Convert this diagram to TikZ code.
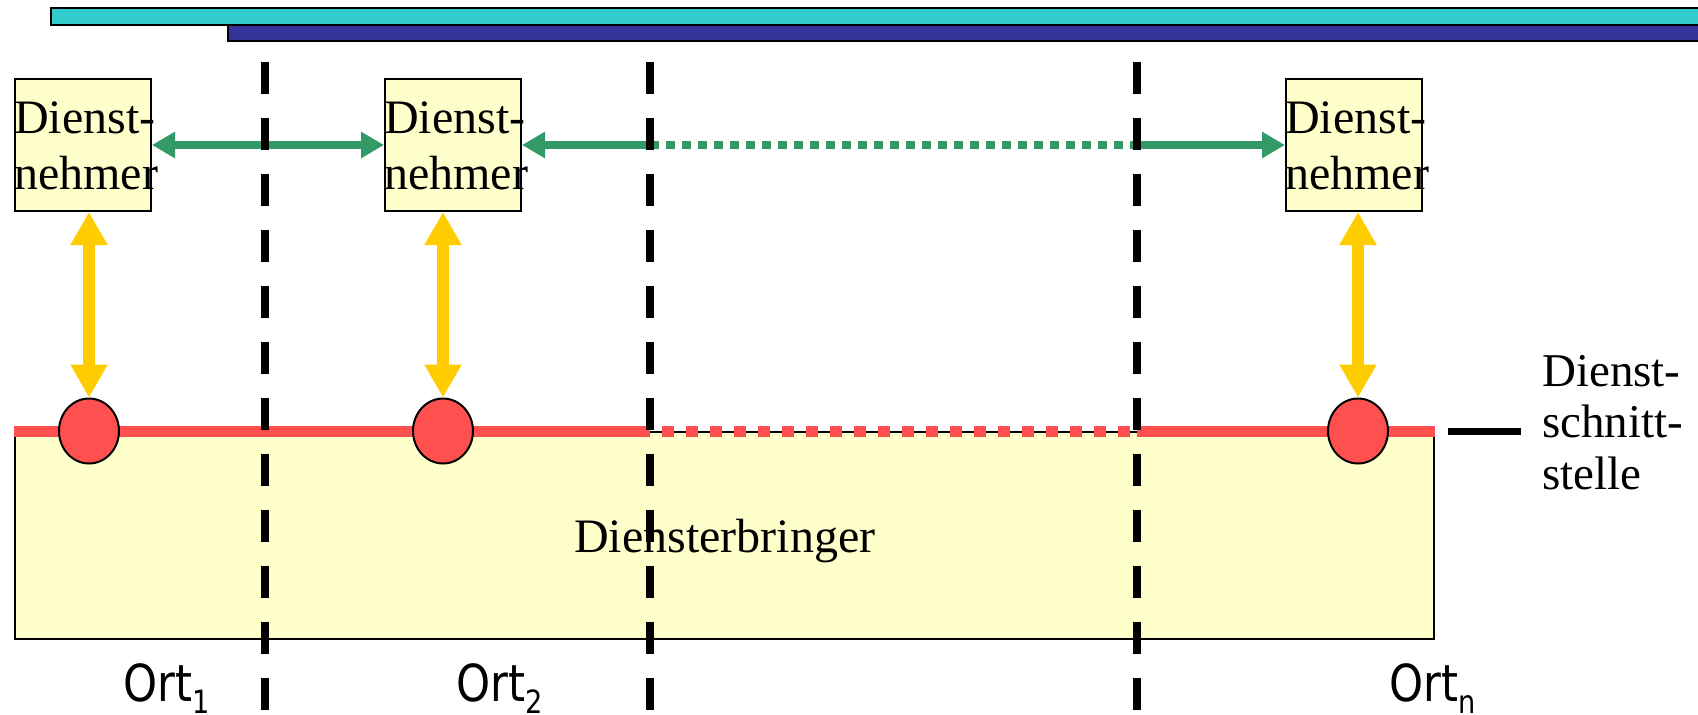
\documentclass[tikz,border=0pt]{standalone}
\usepackage{fontspec}
\setmainfont{Liberation Serif}
\newfontfamily\ortfont[FakeStretch=0.85]{DejaVu Sans}
\usetikzlibrary{arrows.meta,shapes.geometric}
\definecolor{cyanbar}{HTML}{33CCCC}
\definecolor{bluebar}{HTML}{333399}
\definecolor{paleyel}{HTML}{FFFFCC}
\definecolor{grn}{HTML}{339966}
\definecolor{yel}{HTML}{FFCC00}
\definecolor{redl}{HTML}{FF5050}
\begin{document}
\begin{tikzpicture}[x=1pt,y=-1pt,
  nbox/.style={draw=black, line width=2pt, fill=paleyel, inner sep=0pt, minimum width=136pt, minimum height=132pt, anchor=north west},
  ntext/.style={anchor=base west, inner sep=0pt, font=\fontsize{48}{56}\selectfont},
  stext/.style={anchor=base west, inner sep=0pt, font=\fontsize{47}{52}\selectfont},
  ortst/.style={anchor=base west, inner sep=0pt, font=\ortfont\fontsize{51}{60}\selectfont},
  circ/.style={ellipse, draw=black, line width=2pt, fill=redl, minimum width=60pt, minimum height=65pt, inner sep=0pt},
  garrow/.style={draw=grn, line width=8pt},
  gtip/.tip={Triangle[length=23pt,width=25pt]},
  ytip/.tip={Triangle[length=33pt,width=35pt]},
  yarrow/.style={draw=yel, line width=12pt, {ytip}-{ytip}},
  redline/.style={draw=redl, line width=11pt},
  vdash/.style={draw=black, line width=8pt, dash pattern=on 32pt off 24pt},
]
\useasboundingbox (0,0) rectangle (1698,715);
% top bars
\draw[fill=cyanbar, line width=1.5pt] (51,8) rectangle (1705,25);
\draw[fill=bluebar, line width=1.5pt] (228,25) rectangle (1705,41);
% service provider
\node[draw=black, line width=2pt, fill=paleyel, inner sep=0pt, minimum width=1419pt, minimum height=207pt, anchor=north west] (prov) at (14,431) {};
\node[anchor=base west, inner sep=0pt, font=\fontsize{48}{56}\selectfont] (provtext) at (574,552) {Diensterbringer};
% coordinates of the location borders
\coordinate (d1) at (265,62);
\coordinate (d2) at (650,62);
\coordinate (d3) at (1137,62);
\coordinate (d1b) at (265,720);
\coordinate (d2b) at (650,720);
\coordinate (d3b) at (1137,720);
% red interface line
\draw[redline] (prov.north west) -- (d2 |- prov.north);
\draw[redl, line width=11pt, dash pattern=on 12pt off 12pt, dash phase=-12pt] (d2 |- prov.north) -- (d3 |- prov.north);
\draw[redline] (d3 |- prov.north) -- (prov.north east);
% circles
\node[circ] (c1) at (89,431) {};
\node[circ] (c2) at (443,431) {};
\node[circ] (c3) at (1358,431) {};
% Dienstnehmer boxes
\node[nbox] (n1) at (14,78) {};
\node[nbox] (n2) at (384,78) {};
\node[nbox] (n3) at (1285,78) {};
\node[ntext] (n1a) at (14,133) {Dienst-};
\node[ntext] (n1b) at (14,189) {nehmer};
\node[ntext] (n2a) at (384,133) {Dienst-};
\node[ntext] (n2b) at (384,189) {nehmer};
\node[ntext] (n3a) at (1285,133) {Dienst-};
\node[ntext] (n3b) at (1285,189) {nehmer};
% yellow arrows
\draw[yarrow] (c1 |- n1.south) -- (c1.north);
\draw[yarrow] (c2 |- n2.south) -- (c2.north);
\draw[yarrow] (c3 |- n3.south) -- (c3.north);
% green arrows
\draw[garrow, {gtip}-{gtip}] (n1.east) -- (n2.west);
\draw[garrow, {gtip}-] (n2.east) -- (d2 |- n2.east);
\draw[grn, line width=8pt, dash pattern=on 9pt off 7pt] (d2 |- n2.east) -- (d3 |- n2.east);
\draw[garrow, -{gtip}] (d3 |- n3.west) -- (n3.west);
% dashed location borders
\draw[vdash] (d1) -- (d1b);
\draw[vdash] (d2) -- (d2b);
\draw[vdash] (d3) -- (d3b);
% interface label
\coordinate (tk1) at (1448,431);
\coordinate (tk2) at (1521,431);
\draw[black, line width=7pt] (tk1) -- (tk2);
\node[stext] (s1) at (1542,386) {Dienst-};
\node[stext] (s2) at (1542,437) {schnitt-};
\node[stext] (s3) at (1542,489) {stelle};
% location labels
\node[ortst] (o1) at (123,701) {Ort\raisebox{-12pt}{\fontsize{32}{32}\selectfont 1}};
\node[ortst] (o2) at (456,701) {Ort\raisebox{-12pt}{\fontsize{32}{32}\selectfont 2}};
\node[ortst] (o3) at (1389,701) {Ort\raisebox{-12pt}{\fontsize{32}{32}\selectfont n}};
\end{tikzpicture}
\end{document}
